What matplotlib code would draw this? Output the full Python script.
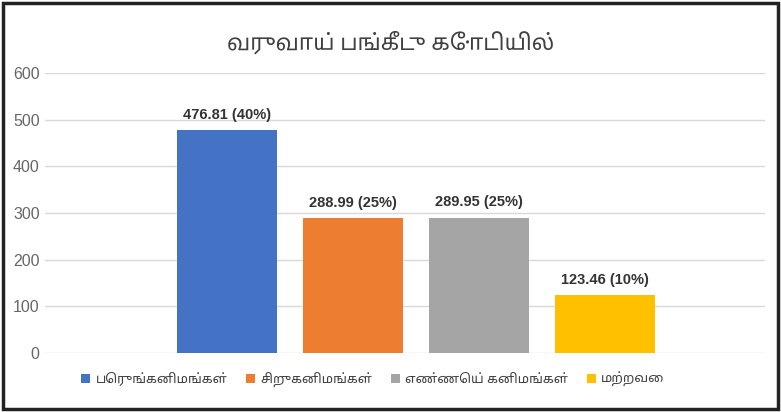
import matplotlib
matplotlib.use("Agg")
import matplotlib.pyplot as plt
from matplotlib.patches import Rectangle

# chart data
categories = ["பெருங்கனிமங்கள்", "சிறுகனிமங்கள்", "எண்ணெய் கனிமங்கள்", "மற்றவை"]
values = [476.81, 288.99, 289.95, 123.46]
shares = ["40%", "25%", "25%", "10%"]
title = "வருவாய் பங்கீடு கோடியில்"
yticks = [0, 100, 200, 300, 400, 500, 600]

colors = ["#4472C4", "#ED7D31", "#A5A5A5", "#FFC000"]

tamil = ["Noto Sans Tamil", "Lohit Tamil", "DejaVu Sans"]
plt.rcParams["font.family"] = ["Liberation Sans", "DejaVu Sans"]

fig = plt.figure(figsize=(7.81, 4.12), dpi=100)
ax = fig.add_axes([0.058, 0.143, 0.922, 0.68])

x = list(range(len(values)))
bars = ax.bar(x, values, width=0.79, color=colors, zorder=3)

# value labels above each bar
for xi, v, s in zip(x, values, shares):
    ax.text(xi, v + 18, "{:.2f} ({})".format(v, s), ha="center", va="bottom",
            fontsize=10.5, fontweight="bold", color="#333333")

ax.set_xlim(-1.44, 4.27)
ax.set_ylim(0, 600)
ax.set_yticks(yticks)
ax.yaxis.grid(True, color="#D9D9D9", linewidth=1, zorder=0)
ax.set_xticks([])
for sp in ax.spines.values():
    sp.set_visible(False)
ax.tick_params(axis="y", length=0, labelsize=11.5, labelcolor="#666666", pad=4)

fig.text(0.5, 0.895, title, ha="center", va="center", fontsize=16,
         color="#404040", family=tamil)

ax.legend(bars, categories, loc="upper center", bbox_to_anchor=(0.455, -0.025),
          ncol=4, frameon=False, prop={"family": tamil, "size": 9.5},
          handlelength=0.7, handleheight=0.7, columnspacing=1.4,
          handletextpad=0.4, labelcolor="#404040")

# dark frame round the whole picture
fig.patches.append(Rectangle((0.004, 0.008), 0.992, 0.985, transform=fig.transFigure,
                             fill=False, edgecolor="#222222", linewidth=2.5))

fig.savefig("out.png", dpi=100)
